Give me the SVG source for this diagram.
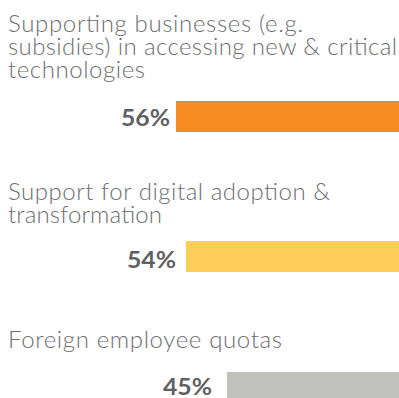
<svg xmlns="http://www.w3.org/2000/svg" width="399" height="398" viewBox="0 0 399 398">
<style>
.lbl{font-family:"Lato","Liberation Sans",sans-serif;font-size:24px;fill:#6d6e70;font-weight:300}
.pct{font-family:"Lato","Liberation Sans",sans-serif;font-size:22px;fill:#5f6062;font-weight:bold}
</style>
<rect width="399" height="398" fill="#ffffff"/>
<g id="item1">
<text class="lbl"><tspan x="8" y="32" textLength="295" lengthAdjust="spacing">Supporting businesses (e.g.</tspan><tspan x="8" y="55" textLength="389" lengthAdjust="spacing">subsidies) in accessing new &amp; critical</tspan><tspan x="8" y="78" textLength="137" lengthAdjust="spacing">technologies</tspan></text>
<text class="pct" x="121" y="126" textLength="49" lengthAdjust="spacingAndGlyphs">56%</text>
<rect x="176" y="101" width="223" height="31" fill="#f48c22"/>
</g>
<g id="item2">
<text class="lbl"><tspan x="8" y="200" textLength="322" lengthAdjust="spacing">Support for digital adoption &amp;</tspan><tspan x="8" y="223" textLength="154" lengthAdjust="spacing">transformation</tspan></text>
<text class="pct" x="127" y="268" textLength="49" lengthAdjust="spacingAndGlyphs">54%</text>
<rect x="186" y="241" width="213" height="31" fill="#fdcd5b"/>
</g>
<g id="item3">
<text class="lbl" x="8" y="348" textLength="274" lengthAdjust="spacing">Foreign employee quotas</text>
<text class="pct" x="163" y="395" textLength="49" lengthAdjust="spacingAndGlyphs">45%</text>
<rect x="227" y="372" width="172" height="26" fill="#c0c0bc"/>
</g>
</svg>
